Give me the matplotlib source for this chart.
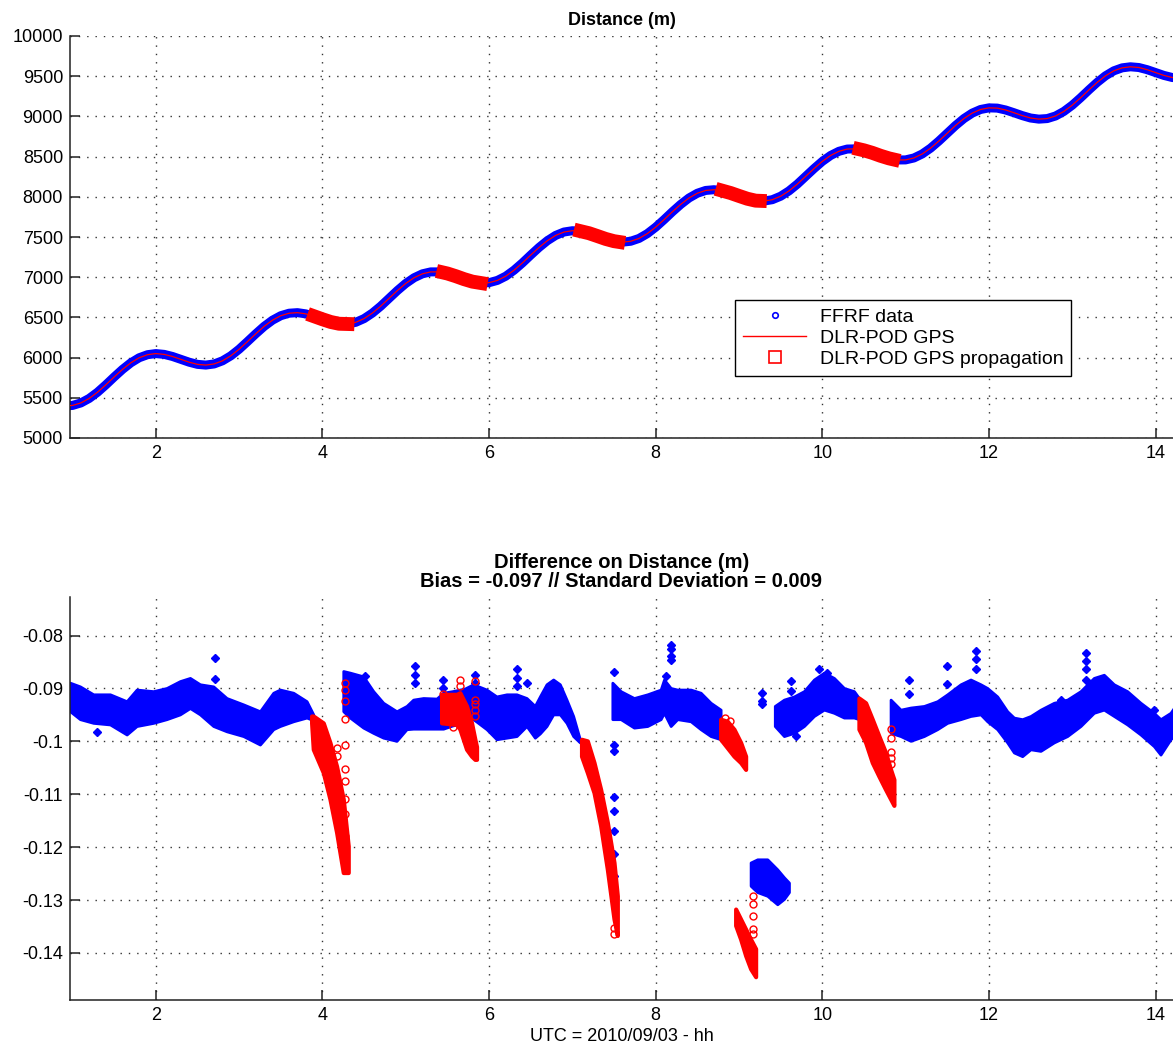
import matplotlib
matplotlib.use('Agg')
import matplotlib.pyplot as plt
from matplotlib.lines import Line2D
from matplotlib.ticker import FormatStrFormatter

plt.rcParams['font.family'] = ['Liberation Sans', 'DejaVu Sans']

BLUE = '#0000ff'
RED = '#ff0000'

# ---- top panel: distance (m) vs UTC hour ----
t_dist = [0.9, 1.0, 1.1, 1.2, 1.3, 1.4, 1.5, 1.6, 1.7, 1.8, 1.9, 2.0, 2.1, 2.2, 2.3, 2.4,
          2.5, 2.6, 2.7, 2.8, 2.9, 3.0, 3.1, 3.2, 3.3, 3.4, 3.5, 3.6, 3.7, 3.8, 3.9, 4.0,
          4.1, 4.2, 4.3, 4.4, 4.5, 4.6, 4.7, 4.8, 4.9, 5.0, 5.1, 5.2, 5.3, 5.4, 5.5, 5.6,
          5.7, 5.8, 5.9, 6.0, 6.1, 6.2, 6.3, 6.4, 6.5, 6.6, 6.7, 6.8, 6.9, 7.0, 7.1, 7.2,
          7.3, 7.4, 7.5, 7.6, 7.7, 7.8, 7.9, 8.0, 8.1, 8.2, 8.3, 8.4, 8.5, 8.6, 8.7, 8.8,
          8.9, 9.0, 9.1, 9.2, 9.3, 9.4, 9.5, 9.6, 9.7, 9.8, 9.9, 10.0, 10.1, 10.2, 10.3,
          10.4, 10.5, 10.6, 10.7, 10.8, 10.9, 11.0, 11.1, 11.2, 11.3, 11.4, 11.5, 11.6,
          11.7, 11.8, 11.9, 12.0, 12.1, 12.2, 12.3, 12.4, 12.5, 12.6, 12.7, 12.8, 12.9,
          13.0, 13.1, 13.2, 13.3, 13.4, 13.5, 13.6, 13.7, 13.8, 13.9, 14.0, 14.1, 14.2,
          14.3, 14.4]
dist = [5398, 5405, 5436, 5492, 5569, 5661, 5759, 5853, 5935, 5998, 6036, 6050, 6040, 6014,
        5978, 5943, 5916, 5907, 5921, 5960, 6022, 6104, 6199, 6296, 6388, 6465, 6521, 6552,
        6559, 6544, 6514, 6477, 6443, 6421, 6418, 6439, 6485, 6554, 6640, 6737, 6834, 6922,
        6993, 7042, 7066, 7066, 7046, 7013, 6976, 6945, 6928, 6932, 6960, 7012, 7087, 7177,
        7275, 7370, 7454, 7520, 7562, 7578, 7572, 7547, 7512, 7476, 7448, 7436, 7447, 7482,
        7542, 7622, 7715, 7813, 7905, 7985, 8044, 8079, 8088, 8076, 8047, 8011, 7976, 7952,
        7947, 7964, 8007, 8073, 8157, 8253, 8350, 8440, 8514, 8566, 8594, 8596, 8578, 8547,
        8510, 8478, 8458, 8459, 8483, 8533, 8605, 8694, 8791, 8887, 8973, 9041, 9086, 9106,
        9103, 9080, 9046, 9010, 8980, 8966, 8973, 9005, 9062, 9139, 9231, 9329, 9423, 9505,
        9567, 9604, 9617, 9608, 9581, 9545, 9510, 9484, 9475, 9489]

# propagation arcs
prop_t = [[3.9, 4.0, 4.1, 4.2, 4.3],
          [5.45, 5.5, 5.6, 5.7, 5.8, 5.9],
          [7.1, 7.2, 7.3, 7.4, 7.5, 7.55],
          [8.8, 8.9, 9.0, 9.1, 9.2, 9.25],
          [10.45, 10.5, 10.6, 10.7, 10.8, 10.85]]
prop_d = [[6514, 6477, 6443, 6421, 6418],
          [7058, 7046, 7013, 6976, 6945, 6928],
          [7572, 7547, 7512, 7476, 7448, 7440],
          [8076, 8047, 8011, 7976, 7952, 7950],
          [8590, 8578, 8547, 8510, 8478, 8466]]

# ---- bottom panel: difference (m), bands of FFRF points ----
blue_t = [
    [0.97, 1.09, 1.25, 1.45, 1.65, 1.77, 1.97, 2.13, 2.29, 2.41, 2.53, 2.69, 2.85, 3.05,
     3.25, 3.41, 3.49, 3.65, 3.81, 3.89],
    [4.25, 4.33, 4.49, 4.61, 4.73, 4.89, 5.01, 5.09, 5.21, 5.37, 5.45, 5.56, 5.71, 5.81,
     5.97, 6.09, 6.21, 6.33, 6.45, 6.55, 6.61, 6.69, 6.77, 6.85, 6.93, 7.01, 7.09],
    [7.48, 7.58, 7.74, 7.90, 8.06, 8.10, 8.18, 8.26, 8.42, 8.54, 8.66, 8.78],
    [9.14, 9.22, 9.34, 9.46, 9.54, 9.60],
    [9.43, 9.54, 9.66, 9.78, 9.90, 10.02, 10.14, 10.26, 10.38, 10.44],
    [10.82, 10.94, 11.06, 11.22, 11.38, 11.50, 11.66, 11.78, 11.90, 11.98, 12.10, 12.22,
     12.30, 12.40, 12.50, 12.62, 12.78, 12.94, 13.10, 13.26, 13.38, 13.50, 13.66, 13.82,
     13.98, 14.06, 14.18, 14.25],
]
blue_hi = [
    [-0.0889, -0.0896, -0.0911, -0.0911, -0.0924, -0.0902, -0.0905, -0.0899, -0.0886, -0.0880,
     -0.0892, -0.0896, -0.0918, -0.0930, -0.0943, -0.0908, -0.0902, -0.0908, -0.0924, -0.0949],
    [-0.0867, -0.0870, -0.0877, -0.0905, -0.0927, -0.0943, -0.0933, -0.0921, -0.0918, -0.0919,
     -0.0908, -0.0905, -0.0900, -0.0892, -0.0902, -0.0915, -0.0911, -0.0911, -0.0918, -0.0933,
     -0.0915, -0.0892, -0.0883, -0.0892, -0.0921, -0.0952, -0.0996],
    [-0.0889, -0.0905, -0.0918, -0.0911, -0.0902, -0.0883, -0.0899, -0.0902, -0.0902, -0.0908,
     -0.0927, -0.0940],
    [-0.1229, -0.1223, -0.1223, -0.1242, -0.1257, -0.1267],
    [-0.0933, -0.0921, -0.0915, -0.0905, -0.0883, -0.0870, -0.0880, -0.0899, -0.0905, -0.0918],
    [-0.0921, -0.0940, -0.0936, -0.0933, -0.0924, -0.0911, -0.0892, -0.0883, -0.0892, -0.0899,
     -0.0915, -0.0943, -0.0955, -0.0958, -0.0952, -0.0940, -0.0927, -0.0921, -0.0905, -0.0880,
     -0.0874, -0.0892, -0.0905, -0.0927, -0.0946, -0.0958, -0.0946, -0.0930],
]
blue_lo = [
    [-0.0943, -0.0958, -0.0965, -0.0968, -0.0987, -0.0971, -0.0965, -0.0958, -0.0949, -0.0937,
     -0.0949, -0.0971, -0.0981, -0.0990, -0.1006, -0.0977, -0.0971, -0.0962, -0.0955, -0.0960],
    [-0.0943, -0.0955, -0.0974, -0.0984, -0.0993, -0.0999, -0.0977, -0.0976, -0.0976, -0.0976,
     -0.0976, -0.0970, -0.0965, -0.0958, -0.0977, -0.0996, -0.0993, -0.0990, -0.0971, -0.0993,
     -0.0985, -0.0971, -0.0949, -0.0949, -0.0965, -0.0990, -0.1002],
    [-0.0958, -0.0958, -0.0974, -0.0971, -0.0958, -0.0946, -0.0971, -0.0958, -0.0962, -0.0977,
     -0.0990, -0.0996],
    [-0.1273, -0.1285, -0.1292, -0.1308, -0.1298, -0.1285],
    [-0.0971, -0.0990, -0.0984, -0.0971, -0.0952, -0.0940, -0.0946, -0.0955, -0.0955, -0.0958],
    [-0.0984, -0.0990, -0.0999, -0.0990, -0.0977, -0.0965, -0.0958, -0.0952, -0.0949, -0.0962,
     -0.0977, -0.1002, -0.1021, -0.1028, -0.1015, -0.1018, -0.1002, -0.0990, -0.0971, -0.0946,
     -0.0940, -0.0952, -0.0968, -0.0987, -0.1009, -0.1025, -0.0996, -0.0985],
]

# propagated arcs (red bands)
red_t = [[3.87, 3.89, 4.01, 4.09, 4.17, 4.25, 4.31],
         [5.43, 5.61, 5.65, 5.73, 5.79, 5.83, 5.85],
         [7.11, 7.18, 7.26, 7.34, 7.42, 7.50, 7.54],
         [8.78, 8.86, 8.94, 9.02, 9.08],
         [8.96, 9.02, 9.08, 9.14, 9.20],
         [10.44, 10.52, 10.60, 10.68, 10.76, 10.82, 10.86]]
red_hi = [[-0.0952, -0.0952, -0.0965, -0.1002, -0.1047, -0.1109, -0.1198],
          [-0.0911, -0.0911, -0.0908, -0.0933, -0.0965, -0.0996, -0.1010],
          [-0.0996, -0.0999, -0.1040, -0.1091, -0.1153, -0.1229, -0.1292],
          [-0.0958, -0.0962, -0.0977, -0.1002, -0.1028],
          [-0.1317, -0.1336, -0.1355, -0.1374, -0.1392],
          [-0.0918, -0.0927, -0.0958, -0.0990, -0.1021, -0.1053, -0.1072]]
red_lo = [[-0.0965, -0.1015, -0.1059, -0.1109, -0.1172, -0.1248, -0.1248],
          [-0.0965, -0.0968, -0.0977, -0.1015, -0.1028, -0.1034, -0.1034],
          [-0.1028, -0.1059, -0.1097, -0.1160, -0.1242, -0.1336, -0.1367],
          [-0.0996, -0.1012, -0.1028, -0.1040, -0.1053],
          [-0.1348, -0.1374, -0.1405, -0.1430, -0.1445],
          [-0.0977, -0.1002, -0.1040, -0.1066, -0.1091, -0.1109, -0.1121]]

# isolated points
out_blue_t = [1.29, 2.71, 2.71, 4.51, 5.11, 5.11, 5.11, 5.45, 5.45, 5.83, 5.83, 6.33, 6.33,
              6.33, 6.45, 7.50, 7.50, 7.50, 7.50, 7.50, 7.50, 7.50, 7.50, 8.12, 8.18, 8.18,
              8.18, 8.18, 9.28, 9.28, 9.28, 9.62, 9.62, 9.68, 9.96, 10.06, 11.04, 11.04,
              11.50, 11.50, 11.84, 11.84, 11.84, 12.86, 13.16, 13.16, 13.16, 13.16, 13.98, 13.98]
out_blue_v = [-0.0982, -0.0842, -0.0882, -0.0877, -0.0858, -0.0874, -0.0889, -0.0883, -0.0899,
              -0.0874, -0.0889, -0.0864, -0.0880, -0.0896, -0.0889, -0.0868, -0.1006, -0.1018,
              -0.1106, -0.1131, -0.1169, -0.1213, -0.1254, -0.0877, -0.0817, -0.0826, -0.0838,
              -0.0847, -0.0908, -0.0924, -0.0930, -0.0886, -0.0905, -0.0990, -0.0864, -0.0870,
              -0.0883, -0.0911, -0.0858, -0.0892, -0.0830, -0.0845, -0.0864, -0.0921, -0.0833,
              -0.0848, -0.0864, -0.0883, -0.0940, -0.0958]
out_red_t = [4.27, 4.27, 4.27, 4.27, 4.27, 4.27, 4.27, 4.27, 4.27, 4.27, 4.17, 4.17,
             5.45, 5.57, 5.65, 5.65, 5.83, 5.83, 5.83, 5.83, 5.83, 7.50, 7.50,
             8.83, 8.89, 9.17, 9.17, 9.17, 9.17, 9.17, 10.82, 10.82, 10.82, 10.82, 10.82]
out_red_v = [-0.0889, -0.0902, -0.0924, -0.0958, -0.1006, -0.1053, -0.1075, -0.1109, -0.1138,
             -0.1179, -0.1012, -0.1028, -0.0911, -0.0972, -0.0883, -0.0896, -0.0886, -0.0921,
             -0.0930, -0.0940, -0.0952, -0.1352, -0.1364, -0.0955, -0.0962, -0.1292, -0.1308,
             -0.1330, -0.1355, -0.1364, -0.0977, -0.0993, -0.1021, -0.1031, -0.1043]

x_ticks = [2, 4, 6, 8, 10, 12, 14]
top_yticks = [5000, 5500, 6000, 6500, 7000, 7500, 8000, 8500, 9000, 9500, 10000]
bot_yticks = [-0.14, -0.13, -0.12, -0.11, -0.1, -0.09, -0.08]


def style_axes(ax):
    ax.spines['top'].set_visible(False)
    ax.spines['right'].set_visible(False)
    for s in ('left', 'bottom'):
        ax.spines[s].set_linewidth(1.1)
        ax.spines[s].set_color('#222222')
    ax.tick_params(direction='in', length=7, width=1.1, labelsize=13, pad=5,
                   colors='#222222', labelcolor='black')
    ax.grid(True, color='#333333', linestyle=(0, (1, 5)), linewidth=1.0)
    ax.set_axisbelow(True)
    ax.set_xticks(x_ticks)
    ax.set_xlim(0.97, 14.21)


fig = plt.figure(figsize=(11.73, 10.45), dpi=100)
ax1 = fig.add_axes([70 / 1173, 1 - 438 / 1045, 1 - 70 / 1173, 402 / 1045])
ax2 = fig.add_axes([70 / 1173, 1 - 1000 / 1045, 1 - 70 / 1173, 403 / 1045])

# top
ax1.plot(t_dist, dist, color=BLUE, lw=6.5, solid_capstyle='butt', solid_joinstyle='round',
         zorder=2)
for st, sd in zip(prop_t, prop_d):
    ax1.plot(st, sd, color=RED, lw=10, solid_capstyle='projecting', zorder=3)
ax1.plot(t_dist, dist, color=RED, lw=0.9, zorder=4)
style_axes(ax1)
ax1.set_ylim(5000, 10000)
ax1.set_yticks(top_yticks)
ax1.set_title('Distance (m)', fontsize=13, fontweight='bold', pad=8)

handles = [Line2D([], [], ls='none', marker='o', ms=4, mfc='none', mec=BLUE, mew=1.2),
           Line2D([], [], color=RED, lw=1),
           Line2D([], [], ls='none', marker='s', ms=8, mfc='none', mec=RED, mew=1.2)]
leg = ax1.legend(handles, ['FFRF data', 'DLR-POD GPS', 'DLR-POD GPS propagation'],
                 loc='upper left', bbox_to_anchor=(0.603, 0.343), fontsize=14,
                 fancybox=False, framealpha=1, edgecolor='black', handlelength=3.27,
                 borderpad=0.4, labelspacing=0.18, handletextpad=0.7, borderaxespad=0)
leg.get_frame().set_linewidth(1.0)

# bottom
for bt, bh, bl in zip(blue_t, blue_hi, blue_lo):
    ax2.fill_between(bt, bl, bh, facecolor=BLUE, edgecolor=BLUE, lw=2, zorder=2)
ax2.plot(out_blue_t, out_blue_v, ls='none', marker='D', ms=4.5, color=BLUE, zorder=2)
for rt, rh, rl in zip(red_t, red_hi, red_lo):
    ax2.fill_between(rt, rl, rh, facecolor=RED, edgecolor=RED, lw=3, zorder=3)
ax2.plot(out_red_t, out_red_v, ls='none', marker='o', ms=5, mfc='none', mec=RED,
         mew=1.0, zorder=4)
style_axes(ax2)
ax2.set_ylim(-0.1489, -0.0727)
ax2.set_yticks(bot_yticks)
ax2.yaxis.set_major_formatter(FormatStrFormatter('%g'))
ax2.set_title('Difference on Distance (m)\nBias = -0.097 // Standard Deviation = 0.009',
              fontsize=14.5, fontweight='bold', pad=7, linespacing=1.05)
ax2.set_xlabel('UTC = 2010/09/03 - hh', fontsize=13, labelpad=3)

fig.savefig('out.png', dpi=100)
